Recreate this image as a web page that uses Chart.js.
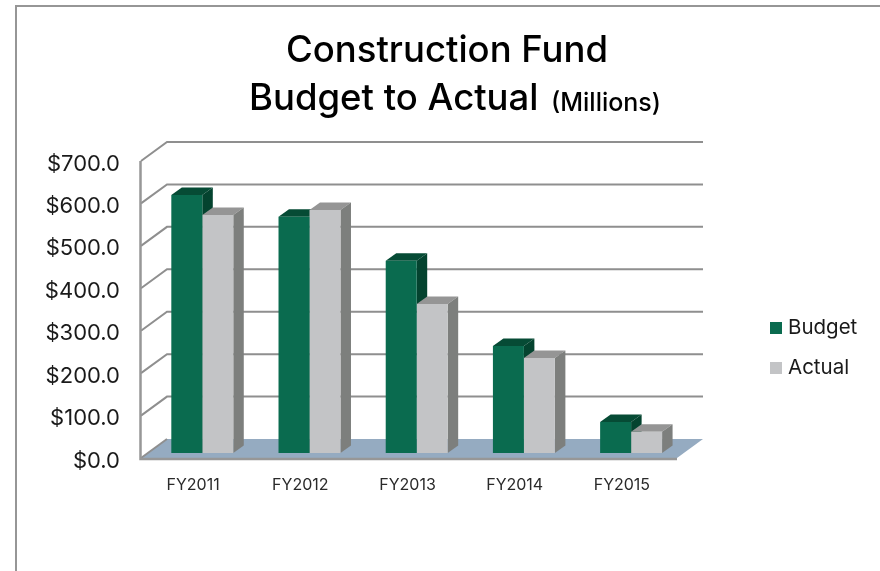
<!DOCTYPE html>
<html>
<head>
<meta charset="utf-8">
<style>html,body{margin:0;padding:0;background:#fff}canvas{display:block}</style>
<script src="https://cdn.jsdelivr.net/npm/chart.js@4"></script>
</head>
<body>
<canvas id="c" width="880" height="571"></canvas>
<script>
const categories = ['FY2011', 'FY2012', 'FY2013', 'FY2014', 'FY2015'];
const budget = [608, 557, 453, 252, 73];
const actual = [561, 573, 351, 224, 50];
const tickValues = [0, 100, 200, 300, 400, 500, 600, 700];

const titleLine1 = 'Construction Fund';
const titleLine2 = 'Budget to Actual';
const titleUnit = '(Millions)';

const DEPTH_X = 26, DEPTH_Y = 19;      // wall depth
const SHIFT_X = 7.7, SHIFT_Y = 5;      // bars stand inside the floor
const BAR_DX = 10.5, BAR_DY = 7.5;     // bar depth
const GRID = '#8f8f8f';
const FLOOR = '#95abc1';
const styles = {
  Budget: {front: '#0a6b4f', top: '#064b35', side: '#04432f'},
  Actual: {front: '#c3c4c6', top: '#959595', side: '#7d7f7d'}
};
const SANS = 'Inter, "Liberation Sans", sans-serif';

function poly(ctx, pts, fill) {
  ctx.beginPath();
  pts.forEach((p, i) => i ? ctx.lineTo(p[0], p[1]) : ctx.moveTo(p[0], p[1]));
  ctx.closePath();
  ctx.fillStyle = fill;
  ctx.fill();
}

const scene = {
  id: 'scene',
  beforeDraw(chart) {
    const ctx = chart.ctx;
    ctx.save();
    // frame of the pasted picture
    ctx.strokeStyle = '#969696';
    ctx.lineWidth = 2;
    ctx.beginPath();
    ctx.moveTo(16, 571); ctx.lineTo(16, 6); ctx.lineTo(880, 6);
    ctx.stroke();
    // title
    ctx.fillStyle = '#000';
    ctx.textBaseline = 'alphabetic';
    ctx.textAlign = 'left';
    ctx.font = '500 36.5px ' + SANS;
    ctx.fillText(titleLine1, 286, 62);
    ctx.fillText(titleLine2, 249, 110);
    ctx.font = '500 25px ' + SANS;
    ctx.fillText(titleUnit, 551, 111);
    // legend
    const legendY = [328, 368];
    chart.data.datasets.forEach((d, i) => {
      ctx.fillStyle = d.backgroundColor;
      ctx.fillRect(770, legendY[i] - 6, 12, 12);
      ctx.fillStyle = '#1a1a1a';
      ctx.font = '20.5px ' + SANS;
      ctx.textBaseline = 'middle';
      ctx.fillText(d.label, 788, legendY[i]);
    });
    ctx.restore();
  },
  beforeDatasetsDraw(chart) {
    const ctx = chart.ctx, y = chart.scales.y, a = chart.chartArea;
    ctx.save();
    // floor
    const y0 = y.getPixelForValue(0);
    poly(ctx, [[a.left, y0], [a.right, y0], [a.right + DEPTH_X, y0 - DEPTH_Y], [a.left + DEPTH_X, y0 - DEPTH_Y]], FLOOR);
    // walls
    ctx.strokeStyle = GRID;
    ctx.lineWidth = 2;
    tickValues.forEach(v => {
      const py = y.getPixelForValue(v);
      ctx.beginPath();
      ctx.moveTo(a.left, py);
      ctx.lineTo(a.left + DEPTH_X, py - DEPTH_Y);
      if (v > 0) ctx.lineTo(a.right + DEPTH_X, py - DEPTH_Y);
      ctx.stroke();
    });
    // front axes
    ctx.strokeStyle = '#979797';
    ctx.lineWidth = 2.5;
    ctx.beginPath();
    ctx.moveTo(a.left - 0.5, y.getPixelForValue(700));
    ctx.lineTo(a.left - 0.5, y0 + 1);
    ctx.lineTo(a.right, y0 + 1);
    ctx.stroke();
    ctx.restore();
    ctx.save();
    ctx.translate(SHIFT_X, -SHIFT_Y);
    // bar depth faces, back to front; front faces are drawn over them by the chart
    chart.data.datasets.forEach((d, i) => {
      const st = styles[d.label];
      chart.getDatasetMeta(i).data.forEach(bar => {
        const p = bar.getProps(['x', 'y', 'base', 'width'], true);
        const l = p.x - p.width / 2, r = p.x + p.width / 2;
        poly(ctx, [[l, p.y], [r, p.y], [r + BAR_DX, p.y - BAR_DY], [l + BAR_DX, p.y - BAR_DY]], st.top);
        poly(ctx, [[r, p.y], [r + BAR_DX, p.y - BAR_DY], [r + BAR_DX, p.base - BAR_DY], [r, p.base]], st.side);
      });
    });
  },
  afterDatasetsDraw(chart) {
    chart.ctx.restore();
  }
};

new Chart(document.getElementById('c'), {
  type: 'bar',
  data: {
    labels: categories,
    datasets: [
      {label: 'Budget', data: budget, backgroundColor: styles.Budget.front, clip: false},
      {label: 'Actual', data: actual, backgroundColor: styles.Actual.front, clip: false}
    ]
  },
  plugins: [scene],
  options: {
    responsive: false,
    animation: false,
    layout: {padding: {top: 161, right: 203, left: 0, bottom: 0}},
    categoryPercentage: 0.578,
    barPercentage: 1,
    plugins: {legend: {display: false}, title: {display: false}, tooltip: {enabled: false}},
    scales: {
      x: {
        grid: {display: false, drawTicks: false},
        border: {display: false},
        ticks: {color: '#2a2a2a', font: {family: SANS, size: 16}, padding: 18, maxRotation: 0, labelOffset: -1.5},
        afterFit(s) { s.height = 113; }
      },
      y: {
        min: 0, max: 700,
        grid: {display: false, drawTicks: false},
        border: {display: false},
        afterBuildTicks(s) { s.ticks = tickValues.map(v => ({value: v})); },
        ticks: {
          color: '#1a1a1a',
          font: {family: SANS, size: 22},
          padding: 21,
          labelOffset: 3,
          callback: v => '$' + Number(v).toFixed(1)
        },
        afterFit(s) { s.width = 141; }
      }
    }
  }
});
</script>
</body>
</html>
